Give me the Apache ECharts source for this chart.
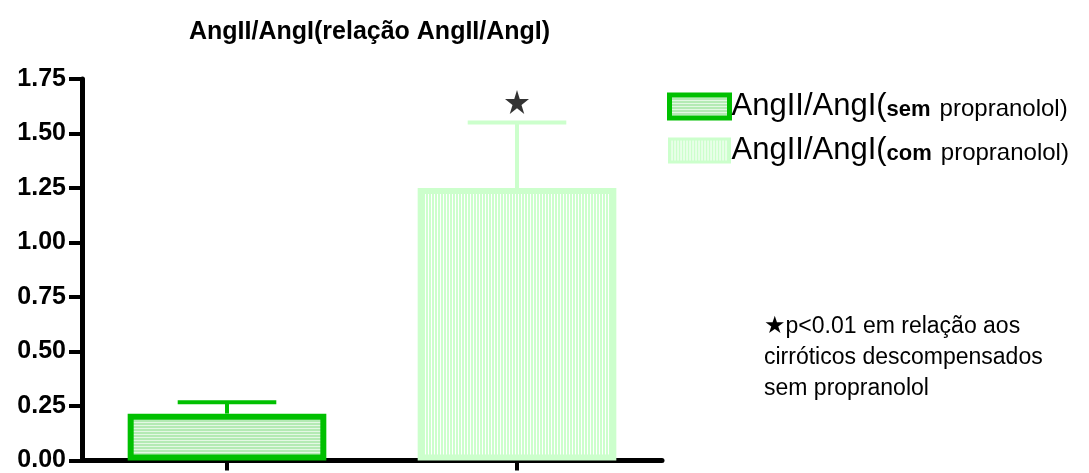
<!DOCTYPE html>
<html>
<head>
<meta charset="utf-8">
<script src="https://cdn.jsdelivr.net/npm/echarts@6/dist/echarts.min.js"></script>
<style>
  html, body { margin: 0; padding: 0; background: #fff; }
  #chart { width: 1089px; height: 473px; }
</style>
</head>
<body>
<div id="chart"></div>
<script>
  // data
  var categories = ['sem', 'com'];
  var means = [0.215, 1.25];
  var errTops = [0.267, 1.55];
  var starValue = [1.645];
  var yTicks = [0, 1.75, 0.25];   // min, max, interval

  var FONT = 'Liberation Sans, Arial, sans-serif';
  var DARK_GREEN = '#00c000';
  var LIGHT_GREEN = '#ccffcc';

  // striped fills
  function stripes(horizontal, c1, c2) {
    var cv = document.createElement('canvas');
    cv.width = horizontal ? 4 : 3;
    cv.height = horizontal ? 3 : 4;
    var ctx = cv.getContext('2d');
    ctx.fillStyle = c1;
    ctx.fillRect(0, 0, cv.width, cv.height);
    ctx.fillStyle = c2;
    if (horizontal) ctx.fillRect(0, 2, cv.width, 1);
    else ctx.fillRect(2, 0, 1, cv.height);
    return { image: cv, repeat: 'repeat' };
  }
  var fillSem = stripes(true, '#b4eab4', '#e4f8e4');
  var fillCom = stripes(false, LIGHT_GREEN, '#ffffff');

  var errColors = [DARK_GREEN, LIGHT_GREEN];

  var chart = echarts.init(document.getElementById('chart'));
  chart.setOption({
    animation: false,
    backgroundColor: '#fff',
    title: {
      text: 'AngII/AngI(relação AngII/AngI)',
      left: 184, top: 15,
      textStyle: { fontFamily: FONT, fontWeight: 'bold', fontSize: 25, color: '#000' }
    },
    grid: { left: 82, right: 427, top: 79, bottom: 9, containLabel: false },
    legend: {
      orient: 'vertical',
      left: 667, top: 91, padding: 0,
      itemWidth: 60, itemHeight: 23, itemGap: 13,
      icon: 'rect',
      data: [
        { name: 'sem', itemStyle: { color: fillSem, borderColor: DARK_GREEN, borderWidth: 5 } },
        { name: 'com', itemStyle: { color: fillCom, borderColor: LIGHT_GREEN, borderWidth: 3 } }
      ],
      formatter: function (n) {
        return '{a|AngII/AngI(}{b|' + n + '}{c|propranolol)}';
      },
      textStyle: {
        padding: [0, 0, 0, -3],
        rich: {
          a: { fontFamily: FONT, fontSize: 31, color: '#000', lineHeight: 23 },
          b: { fontFamily: FONT, fontSize: 22, fontWeight: 'bold', color: '#000', lineHeight: 17, padding: [6, 0, 0, 0] },
          c: { fontFamily: FONT, fontSize: 24, color: '#000', lineHeight: 17, padding: [6, 0, 0, 9] }
        }
      }
    },
    xAxis: {
      type: 'category',
      data: categories,
      axisLine: { lineStyle: { color: '#000', width: 5 } },
      axisTick: { show: true, alignWithLabel: true, length: 10, lineStyle: { color: '#000', width: 4 } },
      axisLabel: { show: false },
      splitLine: { show: false }
    },
    yAxis: {
      type: 'value',
      min: yTicks[0], max: yTicks[1], interval: yTicks[2],
      axisLine: { show: true, lineStyle: { color: '#000', width: 5 } },
      axisTick: { show: true, length: 13, lineStyle: { color: '#000', width: 4 } },
      axisLabel: {
        fontFamily: FONT, fontWeight: 'bold', fontSize: 25, color: '#000', margin: 16,
        formatter: function (v) { return v.toFixed(2); }
      },
      splitLine: { show: false }
    },
    graphic: [
      {
        type: 'text', left: 764, top: 311,
        style: {
          text: '{s|★}p<0.01 em relação aos\ncirróticos descompensados\nsem propranolol',
          fontFamily: FONT, fontSize: 23, fill: '#000', lineHeight: 31,
          rich: { s: { fontFamily: 'DejaVu Sans', fontSize: 24, fill: '#000', lineHeight: 31 } }
        }
      }
    ],
    series: [
      {
        name: 'sem', type: 'bar', barWidth: '68.5%', barGap: '-100%',
        data: [means[0], '-'],
        itemStyle: { color: fillSem, borderColor: DARK_GREEN, borderWidth: 6 },
        z: 2
      },
      {
        name: 'com', type: 'bar', barWidth: '68.5%', barGap: '-100%',
        data: ['-', means[1]],
        itemStyle: { color: fillCom, borderColor: LIGHT_GREEN, borderWidth: 6 },
        z: 2
      },
      {
        type: 'custom', z: 3, silent: true,
        data: categories.map(function (c, i) { return [i, means[i], errTops[i]]; }),
        renderItem: function (params, api) {
          var i = api.value(0);
          var p0 = api.coord([i, api.value(1)]);
          var p1 = api.coord([i, api.value(2)]);
          var half = api.size([1, 0])[0] * 0.17;
          var st = { stroke: errColors[params.dataIndex], lineWidth: 4 };
          return {
            type: 'group',
            children: [
              { type: 'line', shape: { x1: p0[0], y1: p0[1], x2: p1[0], y2: p1[1] }, style: st },
              { type: 'line', shape: { x1: p1[0] - half, y1: p1[1], x2: p1[0] + half, y2: p1[1] }, style: st }
            ]
          };
        }
      },
      {
        type: 'scatter', z: 4, silent: true,
        symbol: 'path://M50,0 L61,35 L98,35 L68,57 L79,91 L50,70 L21,91 L32,57 L2,35 L39,35 Z',
        symbolSize: 24,
        itemStyle: { color: '#000' },
        data: [[1, starValue[0]]]
      }
    ]
  });
</script>
</body>
</html>
